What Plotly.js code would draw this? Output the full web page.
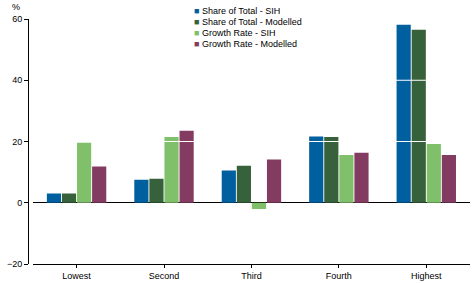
<!DOCTYPE html>
<html>
<head>
<meta charset="utf-8">
<script src="https://cdn.plot.ly/plotly-3.0.1.min.js"></script>
<style>
  html, body { margin: 0; padding: 0; background: #fff; }
  #chart { width: 472px; height: 283px; }
</style>
</head>
<body>
<div id="chart"></div>
<script>
// Income quintiles
const quintiles = ['Lowest', 'Second', 'Third', 'Fourth', 'Highest'];

// Series values (%)
const shareSIH = [3.0, 7.5, 10.5, 21.6, 58.1];
const shareModelled = [3.0, 7.8, 12.1, 21.5, 56.5];
const growthSIH = [19.6, 21.5, -2.0, 15.6, 19.2];
const growthModelled = [11.8, 23.5, 14.1, 16.3, 15.6];

const seriesNames = [
    'Share of Total - SIH',
    'Share of Total - Modelled',
    'Growth Rate - SIH',
    'Growth Rate - Modelled'
];
const seriesValues = [shareSIH, shareModelled, growthSIH, growthModelled];
const seriesColors = ['#005f9f', '#36613a', '#80c06a', '#833b62'];

const yTicks = [-20, 0, 20, 40, 60];

const FONT = 'Liberation Sans, Arial, sans-serif';

const traces = seriesNames.map((name, i) => ({
    type: 'bar',
    name: name,
    x: quintiles,
    y: seriesValues[i],
    marker: { color: seriesColors[i], line: { width: 0 } },
    hoverinfo: 'skip'
}));

// white gridlines that show over the bars
const gridShapes = yTicks.filter(v => v > 0).map(v => ({
    type: 'line',
    xref: 'paper', x0: 0.011, x1: 1,
    yref: 'y', y0: v, y1: v,
    line: { color: '#ffffff', width: 1 },
    layer: 'above'
}));

// hand-made compact legend
const legendNotes = seriesNames.map((name, i) => ({
    xref: 'paper', yref: 'paper',
    x: 0.37, y: 1.034 - i * 0.0449,
    xanchor: 'left', yanchor: 'middle',
    showarrow: false,
    text: '<span style="color:' + seriesColors[i] + ';font-size:9px">■</span> ' + name,
    font: { family: FONT, size: 9, color: '#000' }
}));

const layout = {
    width: 472,
    height: 283,
    margin: { l: 28, r: 2, t: 19, b: 19 },
    paper_bgcolor: '#fff',
    plot_bgcolor: '#fff',
    font: { family: FONT, size: 9, color: '#000' },
    showlegend: false,
    barmode: 'group',
    bargap: 0.31,
    bargroupgap: 0.06,
    xaxis: {
        domain: [0.011, 1],
        showline: true,
        linecolor: '#000',
        linewidth: 1,
        ticks: 'outside',
        ticklen: 3,
        tickcolor: '#000',
        showgrid: false,
        zeroline: false,
        tickfont: { family: FONT, size: 9 }
    },
    yaxis: {
        anchor: 'free',
        position: 0,
        range: [-20, 60],
        tickvals: yTicks,
        showline: true,
        linecolor: '#000',
        linewidth: 1,
        ticks: 'outside',
        ticklen: 4,
        tickcolor: '#000',
        showgrid: false,
        zeroline: true,
        zerolinecolor: '#000',
        zerolinewidth: 1,
        tickfont: { family: FONT, size: 9 }
    },
    shapes: gridShapes,
    annotations: [{
        xref: 'paper', yref: 'paper',
        x: -0.04, y: 1.05,
        xanchor: 'left', yanchor: 'middle',
        showarrow: false,
        text: '%',
        font: { family: FONT, size: 9 }
    }].concat(legendNotes)
};

Plotly.newPlot('chart', traces, layout, { displayModeBar: false, staticPlot: true });
</script>
</body>
</html>
